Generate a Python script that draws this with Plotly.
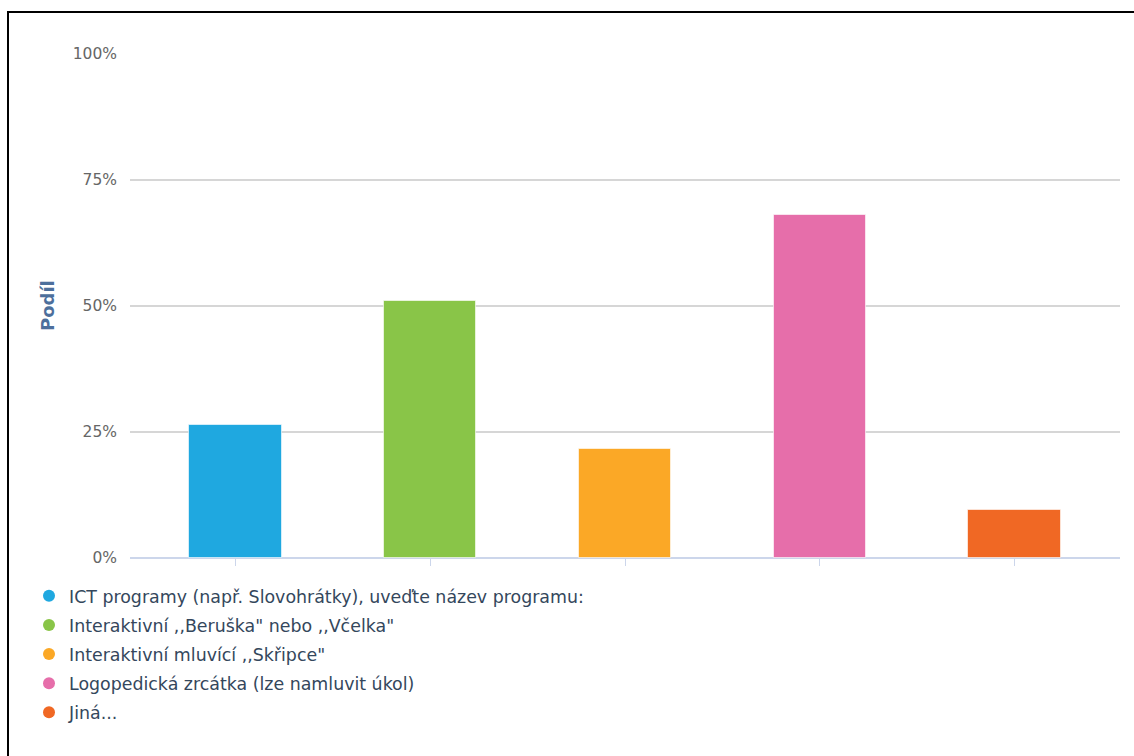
import plotly.graph_objects as go

# Share of respondents per aid type
categories = [
    "ICT programy (např. Slovohrátky), uveďte název programu:",
    "Interaktivní ,,Beruška\" nebo ,,Včelka\"",
    "Interaktivní mluvící ,,Skřipce\"",
    "Logopedická zrcátka (lze namluvit úkol)",
    "Jiná...",
]
shares = [26.4, 51.0, 21.6, 68.1, 9.5]
colors = ["#1fa8e0", "#89c548", "#fba826", "#e66eaa", "#f06824"]
y_ticks = [0, 25, 50, 75, 100]
y_tick_labels = ["0%", "25%", "50%", "75%", "100%"]

W, H = 1134, 756
L, R, T, B = 130, 14, 54, 198
PW, PH = W - L - R, H - T - B


def px_x(px):
    return (px - L) / PW


def px_y(py):
    return 1 - (py - T) / PH


fig = go.Figure()

for i, (cat, val, col) in enumerate(zip(categories, shares, colors)):
    fig.add_trace(go.Bar(
        x=[i], y=[val], width=0.473,
        marker=dict(color=col, line=dict(color="rgba(255,255,255,0.6)", width=1)),
        showlegend=False, name=cat,
    ))

# circular legend entries
for i, (cat, col) in enumerate(zip(categories, colors)):
    fig.add_trace(go.Scatter(
        x=[None], y=[None], mode="markers", name=cat,
        marker=dict(symbol="circle", size=12, color=col),
        legendgroup=f"g{i}",
    ))

fig.update_layout(
    width=W, height=H,
    margin=dict(l=L, r=R, t=T, b=B, autoexpand=False),
    paper_bgcolor="white", plot_bgcolor="white",
    font=dict(family="DejaVu Sans, sans-serif"),
    bargap=0,
    showlegend=True,
    legend=dict(
        orientation="v", x=px_x(29), xanchor="left",
        y=px_y(578), yanchor="top",
        font=dict(size=17.4, color="#34475c"),
        tracegroupgap=3.5, itemsizing="constant",
        bgcolor="rgba(0,0,0,0)",
    ),
    xaxis=dict(
        range=[-0.5416, 4.5416], tickvals=[0, 1, 2, 3, 4], showticklabels=False,
        ticks="outside", ticklen=7, tickcolor="#ccd6eb", tickwidth=1,
        showgrid=False, zeroline=False, showline=False, fixedrange=True,
    ),
    yaxis=dict(
        range=[0, 100], tickvals=y_ticks, ticktext=y_tick_labels,
        showgrid=True, gridcolor="#d6d6d6", gridwidth=1.5,
        zeroline=True, zerolinecolor="#ccd6eb", zerolinewidth=1.5,
        showline=False, ticklabelstandoff=12,
        tickfont=dict(size=15.5, color="#666666"),
    ),
    annotations=[dict(
        text="<b>Podíl</b>", textangle=-90, xref="paper", yref="paper",
        x=px_x(47), y=px_y(306), xanchor="center", yanchor="middle",
        showarrow=False, font=dict(size=18, color="#4d6f9c"),
    )],
    shapes=[
        dict(type="line", xref="paper", yref="paper",
             x0=px_x(8), x1=px_x(1140), y0=px_y(12), y1=px_y(12),
             line=dict(color="black", width=2)),
        dict(type="line", xref="paper", yref="paper",
             x0=px_x(8), x1=px_x(8), y0=px_y(11), y1=px_y(760),
             line=dict(color="black", width=2)),
    ],
)

fig.write_html("out.html")
